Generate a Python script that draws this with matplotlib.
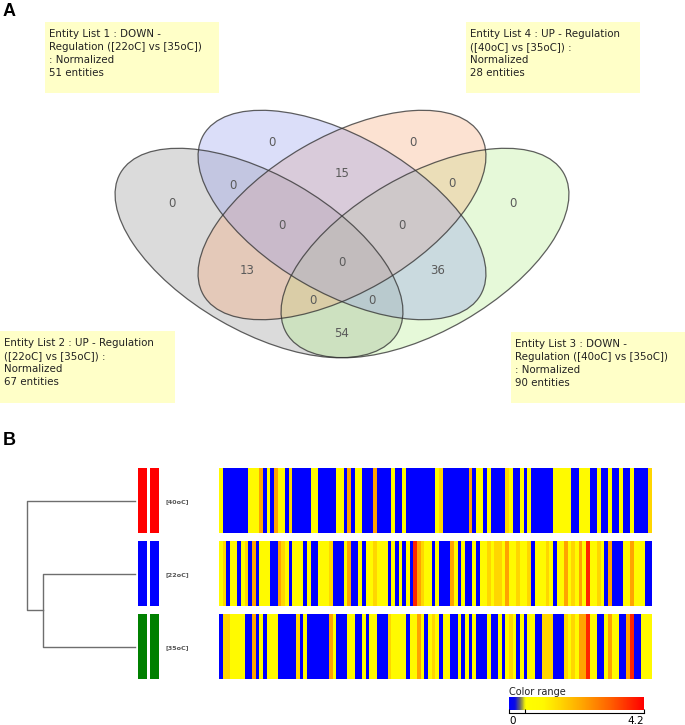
import numpy as np
import matplotlib
matplotlib.use("Agg")
import matplotlib.pyplot as plt
from matplotlib.patches import Ellipse, Rectangle
from matplotlib.colors import LinearSegmentedColormap

# ---------------- data ----------------
list_titles = [
    "Entity List 1 : DOWN -\nRegulation ([22oC] vs [35oC])\n: Normalized\n51 entities",
    "Entity List 4 : UP - Regulation\n([40oC] vs [35oC]) :\nNormalized\n28 entities",
    "Entity List 2 : UP - Regulation\n([22oC] vs [35oC]) :\nNormalized\n67 entities",
    "Entity List 3 : DOWN -\nRegulation ([40oC] vs [35oC])\n: Normalized\n90 entities",
]
list_sizes = [51, 28, 67, 90]

region_names = ["L2 only", "L1 only", "L4 only", "L3 only", "L1&L2", "L4&L3",
                "L1&L4", "L1&L4&L2", "L1&L4&L3", "all", "L2&L4", "L3&L1",
                "L2&L3&L4", "L2&L3&L1", "L2&L3"]
region_counts = [0, 0, 0, 0, 0, 0, 15, 0, 0, 0, 13, 36, 0, 0, 54]

conditions = ["[40oC]", "[22oC]", "[35oC]"]
condition_colors = ["#ff0000", "#0000ff", "#008000"]

expr_40oC = [1, 0, 0, 0, 0, 0, 0, 0, 1, 1,
             1, 2.3, 0, 1, 0, 2.3, 1, 1, 0, 1.6,
             0, 0, 0, 0, 0, 1, 1, 0, 0, 0,
             0, 0, 1, 1, 0, 2.3, 0, 1, 1, 0,
             0, 0, 2.3, 0, 0, 0, 0, 1, 0, 0,
             1, 0, 0, 0, 0, 0, 0, 0, 0, 1,
             1.6, 0, 0, 0, 0, 0, 0, 0, 2.3, 0,
             1, 1, 0, 1, 0, 0, 0, 0, 1.6, 1,
             0, 0, 1, 0, 1, 0, 0, 0, 0, 0,
             0, 1, 1, 1, 1, 1, 0, 0, 1, 1,
             1, 0, 0, 1, 0, 0, 1, 0, 0, 1,
             0, 0, 1, 0, 0, 0, 0, 1.6]
expr_22oC = [1, 1.6, 0, 1, 1, 0, 1, 1.6, 0, 2.3,
             0, 1, 1, 1, 0, 0, 2.3, 1.6, 1, 0,
             1, 1, 1, 0, 1, 0, 0, 1, 1, 1,
             1.6, 0, 0, 0, 1, 2.3, 0, 0, 1, 0,
             1, 1, 1.6, 1, 1, 1, 0, 1, 0, 1,
             0, 1, 0, 3.8, 2.3, 1.6, 1, 1, 0, 1,
             0, 0, 0, 2.3, 1, 0, 1, 0, 0, 1,
             0, 1, 1, 1.6, 1, 1.6, 1.6, 1, 2.3, 1,
             1, 1.6, 1, 1, 1.6, 0, 1, 1, 1, 1.6,
             1, 0, 1, 1, 2.3, 1, 1.6, 1, 2.3, 1,
             3.8, 1, 1, 1.6, 1, 0, 2.3, 0, 0, 0,
             1, 1, 2.3, 1, 1, 1, 0, 0]
expr_35oC = [0, 1.6, 1.6, 1, 1, 1, 1, 0, 0, 2.3,
             0, 1, 0, 1, 1, 1, 0, 0, 0, 0,
             0, 1.6, 0, 1, 0, 0, 0, 0, 0, 0,
             2.3, 1, 0, 0, 0, 1, 1, 0, 0, 1,
             0, 1, 1, 0, 0, 0, 1.6, 1, 1, 1,
             1, 0, 1, 1, 2.3, 1, 0, 1, 1.6, 1,
             0, 1, 1, 0, 0, 1, 0, 1, 0, 1,
             0, 0, 0, 1, 0, 0, 1, 0, 1, 1.6,
             1, 0, 1, 0, 1, 1, 0, 0, 1.6, 1.6,
             1.6, 0, 0, 0, 1.6, 1, 1.6, 1, 2.3, 2.3,
             3.8, 1, 1, 0, 0, 1, 2.3, 1, 1, 0,
             0, 2.3, 3.8, 0, 0, 1, 1, 1]
expression = [expr_40oC, expr_22oC, expr_35oC]
color_min, color_max = 0.0, 4.2

# dendrogram merge heights (relative): (22oC,35oC) then with 40oC
merge_heights = [0.85, 1.0]

# ---------------- figure ----------------
W, H = 685, 725
fig = plt.figure(figsize=(W / 100, H / 100), dpi=100)
plt.rcParams["font.family"] = ["DejaVu Sans"]

base = fig.add_axes([0, 0, 1, 1])
base.set_xlim(0, W)
base.set_ylim(H, 0)
base.axis("off")


def px_axes(x0, y0, x1, y1):
    return fig.add_axes([x0 / W, 1 - y1 / H, (x1 - x0) / W, (y1 - y0) / H])


# panel labels
base.text(3, 11, "A", fontsize=13, fontweight="bold", family="Liberation Sans",
          va="center", ha="left")
base.text(3, 440, "B", fontsize=13, fontweight="bold", family="Liberation Sans",
          va="center", ha="left")

# ---------------- Venn ----------------
a, b = 160, 78
ell_specs = [  # (center, angle, face color)
    ((259, 253), 30, (145 / 255, 145 / 255, 145 / 255)),   # List 2 gray
    ((425, 253), -30, (178 / 255, 238 / 255, 138 / 255)),  # List 3 green
    ((342, 215), -30, (248 / 255, 165 / 255, 115 / 255)),  # List 4 orange
    ((342, 215), 30, (145 / 255, 155 / 255, 238 / 255)),   # List 1 blue
]
for (c, ang, col) in ell_specs:
    base.add_patch(Ellipse(c, 2 * a, 2 * b, angle=ang,
                           facecolor=(*col, 0.32), edgecolor="none", zorder=2))
for (c, ang, col) in ell_specs:
    base.add_patch(Ellipse(c, 2 * a, 2 * b, angle=ang, facecolor="none",
                           edgecolor=(0.2, 0.2, 0.2, 0.78), lw=0.9, zorder=3))

region_pos = [(172, 203), (272, 142), (413, 142), (513, 203), (233, 185),
              (452, 183), (342, 173), (282, 225), (402, 225), (342, 262),
              (247, 270), (438, 270), (313, 300), (372, 300), (342, 333)]
for (x, y), v in zip(region_pos, region_counts):
    base.text(x, y, str(v), fontsize=8.5, color="#5a5a5a", ha="center",
              va="center", zorder=4)

box_rects = [(45, 22, 219, 93), (466, 22, 640, 93), (0, 331, 175, 403),
             (511, 332, 685, 403)]
for (x0, y0, x1, y1), t in zip(box_rects, list_titles):
    base.add_patch(Rectangle((x0, y0), x1 - x0, y1 - y0, facecolor="#ffffc8",
                             edgecolor="none", zorder=5))
    base.text(x0 + 4, y0 + 7, t, fontsize=7.4, color="#222222", ha="left",
              va="top", linespacing=1.36, zorder=6)

# ---------------- Panel B ----------------
row_y = [(468, 533), (541, 606), (614, 679)]
hm_x0, hm_x1 = 219, 652
cmap = LinearSegmentedColormap.from_list("cr", [
    (0.0, (0, 0, 1)), (0.04, (0.04, 0.04, 0.9)), (0.08, (0.42, 0.42, 0.4)),
    (0.12, (1, 1, 0)), (0.25, (1, 0.98, 0)), (0.38, (1, 0.84, 0)),
    (0.55, (1, 0.64, 0)), (0.75, (1, 0.38, 0)), (1.0, (1, 0, 0))])

for vals, (y0, y1), cond, ccol in zip(expression, row_y, conditions,
                                      condition_colors):
    ax = px_axes(hm_x0, y0, hm_x1, y1)
    ax.imshow(np.array(vals)[np.newaxis, :], aspect="auto", cmap=cmap,
              vmin=color_min, vmax=color_max, interpolation="nearest")
    ax.axis("off")
    for bx in (138, 150):
        base.add_patch(Rectangle((bx, y0), 9, y1 - y0, facecolor=ccol,
                                 edgecolor="none"))
    base.text(166, (y0 + y1) / 2 + 1, cond, fontsize=4.6, color="#555555",
              fontweight="bold", ha="left", va="center")

# dendrogram
leaf_y = [(y0 + y1) / 2 for y0, y1 in row_y]
x_leaf, x_scale = 135, 108
xm1 = x_leaf - merge_heights[0] * x_scale
xm2 = x_leaf - merge_heights[1] * x_scale
ym1 = (leaf_y[1] + leaf_y[2]) / 2
lc = dict(color="#6e6e6e", lw=1.0)
base.plot([x_leaf, xm1, xm1, x_leaf], [leaf_y[1], leaf_y[1], leaf_y[2], leaf_y[2]], **lc)
base.plot([x_leaf, xm2, xm2, xm1], [leaf_y[0], leaf_y[0], ym1, ym1], **lc)

# colour range bar
cax = px_axes(509, 697, 644, 710)
grad = np.linspace(color_min, color_max, 300)[np.newaxis, :]
cax.imshow(grad, aspect="auto", cmap=cmap, vmin=color_min, vmax=color_max,
           extent=[color_min, color_max, 0, 1])
cax.set_xlim(color_min, color_max)
cax.set_yticks([])
for s in ("top", "left", "right"):
    cax.spines[s].set_visible(False)
cax.spines["bottom"].set_position(("outward", 2))
cax.spines["bottom"].set_linewidth(0.8)
cax.set_xticks([color_min, 0.5, color_max])
cax.set_xticklabels(["0", "", "4.2"])
cax.tick_params(axis="x", direction="in", length=3, width=0.8, labelsize=7.5,
                pad=2)
labs = cax.get_xticklabels()
labs[0].set_ha("left")
labs[2].set_ha("right")
base.text(509, 692, "Color range", fontsize=7, color="#222222", ha="left",
          va="center")

fig.savefig("out.png", dpi=100)
